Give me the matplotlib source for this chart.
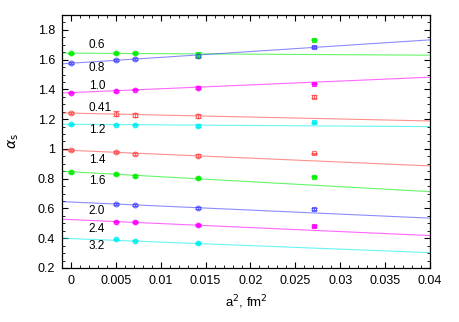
import matplotlib
matplotlib.use("Agg")
import matplotlib.pyplot as plt
from matplotlib.ticker import MultipleLocator
import numpy as np

plt.rcParams['font.family'] = ['Liberation Sans', 'DejaVu Sans']

# a^2 values (fm^2) of the lattice points
a2 = [0.0, 0.005, 0.0071, 0.0141, 0.0271]

# series: label, colour, filled?, values (None = no point), errors
labels = ['0.6', '0.8', '1.0', '0.41', '1.2', '1.4', '1.6', '2.0', '2.4', '3.2']
colors = ['#00ee00', '#3f3fff', '#ff00ff', '#ff4444', '#00eeee',
          '#ff4444', '#00ee00', '#3f3fff', '#ff00ff', '#00eeee']
filled = [True, False, True, False, True, False, True, False, True, True]
values = [
    [1.643, 1.643, 1.647, 1.630, 1.733],
    [1.576, 1.596, 1.603, 1.627, 1.684],
    [1.379, 1.390, 1.399, 1.410, 1.439],
    [1.240, 1.238, 1.227, 1.220, 1.352],
    [1.166, 1.164, 1.164, 1.157, 1.180],
    [0.991, 0.978, 0.967, 0.955, 0.971],
    [0.846, 0.832, 0.819, 0.803, 0.814],
    [None, 0.631, 0.622, 0.604, 0.599],
    [None, 0.512, 0.510, 0.487, 0.483],
    [None, 0.393, 0.384, 0.368, None],
]
errors = [
    [0.004, 0.008, 0.006, 0.022, 0.004],
    [0.005, 0.008, 0.006, 0.010, 0.006],
    [0.004, 0.005, 0.004, 0.010, 0.004],
    [0.005, 0.020, 0.012, 0.015, 0.010],
    [0.004, 0.004, 0.004, 0.008, 0.004],
    [0.006, 0.006, 0.006, 0.010, 0.005],
    [0.006, 0.006, 0.006, 0.008, 0.005],
    [0.0, 0.006, 0.006, 0.008, 0.006],
    [0.0, 0.005, 0.005, 0.006, 0.005],
    [0.0, 0.005, 0.005, 0.006, 0.0],
]
# fitted lines: value at a^2 = -0.001 and at a^2 = 0.04
fit_left = [1.644, 1.572, 1.376, 1.242, 1.166, 0.993, 0.850, 0.646, 0.528, 0.400]
fit_right = [1.630, 1.733, 1.482, 1.188, 1.150, 0.886, 0.713, 0.535, 0.418, 0.303]
# label y positions
label_y = [1.70, 1.543, 1.424, 1.278, 1.128, 0.926, 0.785, 0.586, 0.465, 0.346]

fig = plt.figure(figsize=(4.59, 3.22), dpi=100)
ax = fig.add_axes([62 / 459, 1 - 268 / 322, 368 / 459, 253 / 322])

xl = [-0.001, 0.04]
for i in range(len(labels)):
    c = colors[i]
    ax.plot(xl, [fit_left[i], fit_right[i]], color=c, lw=0.8, alpha=0.6, zorder=2)
    for j, x in enumerate(a2):
        v = values[i][j]
        if v is None:
            continue
        m = 's' if j == 4 else 'o'
        ax.errorbar(x, v, yerr=errors[i][j], fmt=m, ms=3.4 if j < 4 else 3.2,
                    color=c, mfc=c if filled[i] else 'none', mec=c,
                    mew=0.8, elinewidth=0.8, capsize=2.2, capthick=0.8,
                    alpha=0.8, zorder=3)
    ax.text(0.002, label_y[i], labels[i], fontsize=8.5, ha='left', va='center')

ax.set_xlim(xl)
ax.set_ylim(0.2, 1.9)
ax.xaxis.set_minor_locator(MultipleLocator(0.001))
ax.yaxis.set_minor_locator(MultipleLocator(0.05))
ax.set_xticks(np.arange(0, 0.0401, 0.005))
ax.set_xticklabels(['0', '0.005', '0.01', '0.015', '0.02', '0.025', '0.03', '0.035', '0.04'])
ax.set_yticks(np.arange(0.2, 1.81, 0.2))
ax.set_yticklabels(['0.2', '0.4', '0.6', '0.8', '1', '1.2', '1.4', '1.6', '1.8'])
ax.tick_params(which='both', direction='in', top=True, right=True, labelsize=9)
ax.tick_params(which='major', length=4, width=0.8, pad=5)
ax.tick_params(which='minor', length=2, width=0.6)
for s in ax.spines.values():
    s.set_linewidth(0.9)

ax.set_xlabel(r'a$^2$, fm$^2$', fontsize=9.5, labelpad=5)
ax.set_ylabel(r'$\alpha_{\rm s}$', fontsize=10, labelpad=12)

fig.savefig('out.png', dpi=100)
